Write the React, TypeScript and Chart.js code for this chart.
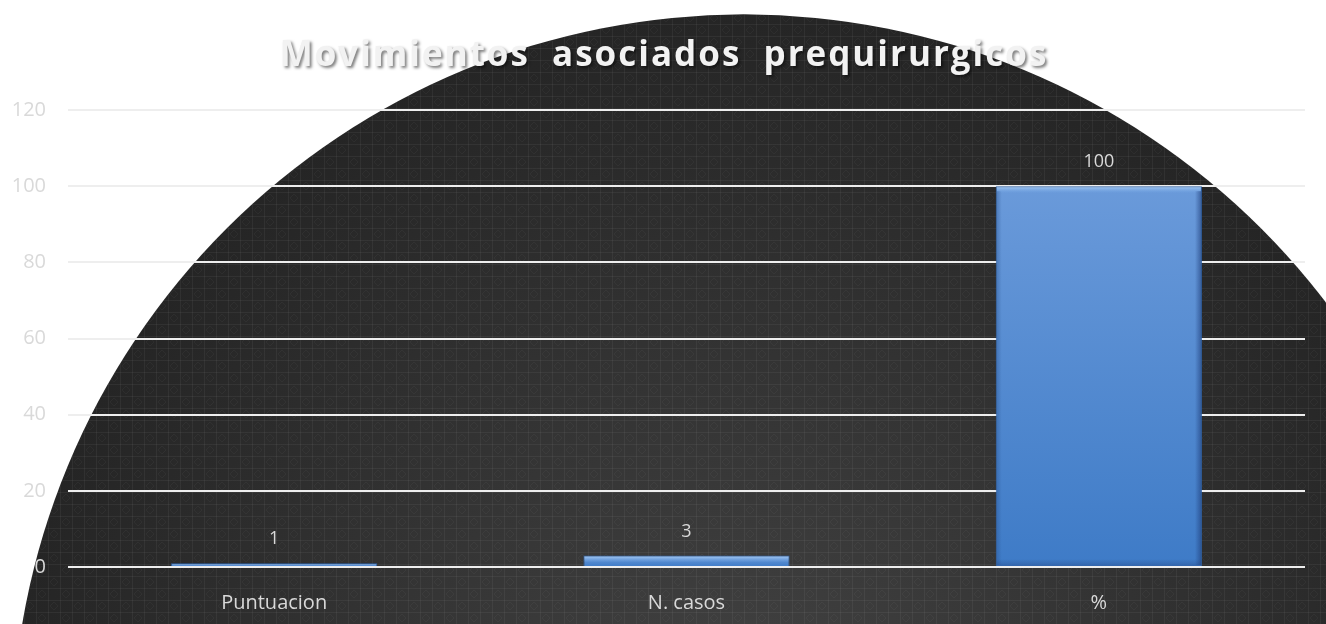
import React, { useEffect, useRef } from 'react';
import { Chart, registerables } from 'chart.js';

Chart.register(...registerables);

const chartTitle = 'Movimientos  asociados  prequirurgicos';
const categories = ['Puntuacion', 'N. casos', '%'];
const values = [1, 3, 100];
const yTicks = [0, 20, 40, 60, 80, 100, 120];

const FONT = '"Open Sans", "DejaVu Sans", sans-serif';

function makePattern(ctx: CanvasRenderingContext2D) {
  const c = document.createElement('canvas');
  c.width = 24;
  c.height = 24;
  const p = c.getContext('2d')!;
  p.strokeStyle = 'rgba(255,255,255,0.05)';
  p.lineWidth = 1;
  p.beginPath();
  p.moveTo(0.5, 0); p.lineTo(0.5, 24);
  p.moveTo(12.5, 0); p.lineTo(12.5, 24);
  p.moveTo(0, 0.5); p.lineTo(24, 0.5);
  p.moveTo(0, 12.5); p.lineTo(24, 12.5);
  p.stroke();
  p.strokeStyle = 'rgba(255,255,255,0.035)';
  p.beginPath();
  p.moveTo(6, 2); p.lineTo(10, 6); p.lineTo(6, 10); p.lineTo(2, 6); p.closePath();
  p.moveTo(18, 14); p.lineTo(22, 18); p.lineTo(18, 22); p.lineTo(14, 18); p.closePath();
  p.stroke();
  return ctx.createPattern(c, 'repeat');
}

const backgroundPlugin = {
  id: 'bgCircle',
  beforeDraw(chart: any) {
    const ctx = chart.ctx as CanvasRenderingContext2D;
    const w = chart.width;
    const h = chart.height;
    ctx.save();
    ctx.fillStyle = '#ffffff';
    ctx.fillRect(0, 0, w, h);
    const cx = w * 0.561;
    const cy = h * 1.196;
    const r = w * 0.552;
    ctx.beginPath();
    ctx.arc(cx, cy, r, 0, Math.PI * 2);
    const g = ctx.createRadialGradient(cx, cy, 0, cx, cy, r);
    g.addColorStop(0, '#434343');
    g.addColorStop(0.6, '#313131');
    g.addColorStop(1, '#252525');
    ctx.fillStyle = g;
    ctx.fill();
    const pat = makePattern(ctx);
    if (pat) {
      ctx.fillStyle = pat;
      ctx.fill();
    }
    ctx.restore();
  },
};

const titlePlugin = {
  id: 'shadowTitle',
  afterDraw(chart: any) {
    const ctx = chart.ctx as CanvasRenderingContext2D;
    ctx.save();
    ctx.font = `bold 35px ${FONT}`;
    (ctx as any).letterSpacing = '2px';
    ctx.textAlign = 'center';
    ctx.textBaseline = 'alphabetic';
    ctx.shadowColor = 'rgba(0,0,0,0.5)';
    ctx.shadowBlur = 3;
    ctx.shadowOffsetX = 2;
    ctx.shadowOffsetY = 2;
    ctx.fillStyle = '#f2f2f2';
    ctx.fillText(chartTitle, chart.width / 2 + 1, 66);
    ctx.restore();
  },
};

const barDecorPlugin = {
  id: 'barDecor',
  afterDatasetsDraw(chart: any) {
    const ctx = chart.ctx as CanvasRenderingContext2D;
    const meta = chart.getDatasetMeta(0);
    ctx.save();
    meta.data.forEach((el: any, i: number) => {
      const left = el.x - el.width / 2;
      const top = el.y;
      const hgt = el.base - el.y;
      const hl = Math.min(7, hgt);
      const g = ctx.createLinearGradient(0, top, 0, top + hl);
      g.addColorStop(0, 'rgba(175,210,248,0.95)');
      g.addColorStop(1, 'rgba(120,170,230,0)');
      ctx.fillStyle = g;
      ctx.fillRect(left + 1, top + 1, el.width - 2, Math.max(hl - 1, 1));
      if (hgt > 12) {
        const gl = ctx.createLinearGradient(left, 0, left + 6, 0);
        gl.addColorStop(0, 'rgba(40,80,140,0.45)');
        gl.addColorStop(1, 'rgba(40,80,140,0)');
        ctx.fillStyle = gl;
        ctx.fillRect(left + 1, top + 5, 6, hgt - 6);
        const gr = ctx.createLinearGradient(left + el.width - 7, 0, left + el.width, 0);
        gr.addColorStop(0, 'rgba(30,60,120,0)');
        gr.addColorStop(1, 'rgba(30,60,120,0.65)');
        ctx.fillStyle = gr;
        ctx.fillRect(left + el.width - 8, top + 5, 7, hgt - 6);
        const gb = ctx.createLinearGradient(0, el.base - 7, 0, el.base);
        gb.addColorStop(0, 'rgba(30,60,120,0)');
        gb.addColorStop(1, 'rgba(30,60,120,0.35)');
        ctx.fillStyle = gb;
        ctx.fillRect(left + 1, el.base - 7, el.width - 2, 7);
      }
      ctx.font = `18px ${FONT}`;
      ctx.fillStyle = '#d9d9d9';
      ctx.textAlign = 'center';
      ctx.textBaseline = 'alphabetic';
      ctx.fillText(String(values[i]), el.x, el.y - 19);
    });
    ctx.restore();
  },
};

export default function App() {
  const canvasRef = useRef<HTMLCanvasElement | null>(null);

  useEffect(() => {
    const canvas = canvasRef.current;
    if (!canvas) return;
    const chart = new Chart(canvas, {
      type: 'bar',
      data: {
        labels: categories,
        datasets: [
          {
            data: values,
            backgroundColor: (c: any) => {
              const ch = c.chart;
              const ys = ch.scales && ch.scales.y;
              if (!ys || c.raw == null) return '#4f87d2';
              const top = ys.getPixelForValue(c.raw);
              const bot = ys.getPixelForValue(0);
              if (!isFinite(top) || !isFinite(bot) || bot - top < 1) return '#4f87d2';
              const g = ch.ctx.createLinearGradient(0, top, 0, bot);
              g.addColorStop(0, '#6a9ada');
              g.addColorStop(1, '#3e7bc7');
              return g;
            },
            borderColor: '#2f62a6',
            borderWidth: 1,
            categoryPercentage: 0.5,
            barPercentage: 1,
          },
        ],
      },
      options: {
        responsive: false,
        animation: false,
        layout: { padding: { top: 110, right: 21, left: 0, bottom: 0 } },
        plugins: {
          legend: { display: false },
          title: { display: false },
          tooltip: { enabled: false },
        },
        scales: {
          x: {
            grid: { display: false, drawTicks: false },
            border: { display: false },
            ticks: { color: '#d9d9d9', font: { family: FONT, size: 20 }, padding: 24 },
            afterFit: (s: any) => {
              s.height = 57;
            },
          },
          y: {
            min: 0,
            max: 120,
            afterBuildTicks: (s: any) => {
              s.ticks = yTicks.map((v) => ({ value: v }));
            },
            grid: { color: '#eeeeee', lineWidth: 2, drawTicks: false },
            border: { display: false },
            ticks: { color: '#d9d9d9', font: { family: FONT, size: 20 }, padding: 22 },
            afterFit: (s: any) => {
              s.width = 68;
            },
          },
        },
      },
      plugins: [backgroundPlugin, titlePlugin, barDecorPlugin],
    });
    return () => chart.destroy();
  }, []);

  return (
    <div style={{ position: 'absolute', left: 0, top: 0, width: 1326, height: 624 }}>
      <canvas ref={canvasRef} width={1326} height={624} style={{ display: 'block' }} />
    </div>
  );
}
